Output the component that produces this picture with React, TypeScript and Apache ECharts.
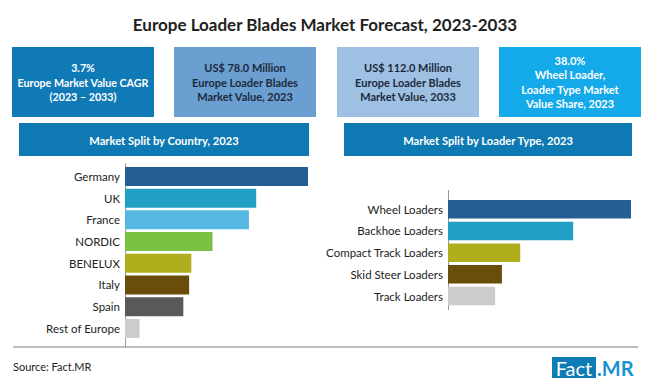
import React, { useEffect, useRef } from "react";
import * as echarts from "echarts";

const countries = ["Germany", "UK", "France", "NORDIC", "BENELUX", "Italy", "Spain", "Rest of Europe"];
const countryShare = [25.1, 18.0, 17.0, 12.0, 9.1, 8.8, 8.0, 2.0];
const countryColors = ["#245F93", "#20A0C4", "#55B8E2", "#7BC143", "#AFAF1E", "#6A4D0A", "#595959", "#CCCCCC"];

const loaderTypes = ["Wheel Loaders", "Backhoe Loaders", "Compact Track Loaders", "Skid Steer Loaders", "Track Loaders"];
const loaderShare = [38.0, 26.0, 15.0, 11.2, 9.8];
const loaderColors = ["#245F93", "#20A0C4", "#AFAF1E", "#6A4D0A", "#CCCCCC"];

const kpiTexts = [
  "3.7%\nEurope Market Value CAGR\n(2023 – 2033)",
  "US$ 78.0 Million\nEurope Loader Blades\nMarket Value, 2023",
  "US$ 112.0 Million\nEurope Loader Blades\nMarket Value, 2033",
  "38.0%\nWheel Loader,\nLoader Type Market\nValue Share, 2023",
];
const kpiColors = ["#0F7AB5", "#6B9FD2", "#9EC0E2", "#14A9E8"];

const FONT = "Lato, 'Open Sans', sans-serif";

export default function App() {
  const ref = useRef<HTMLDivElement>(null);
  useEffect(() => {
    if (!ref.current) return;
    const chart = echarts.init(ref.current, null, { renderer: "svg" });

    const boxX = [12, 174, 337, 499];
    const boxW = 142;
    const graphics: any[] = [];
    graphics.push({
      type: "line",
      shape: { x1: 40, y1: 42, x2: 610, y2: 42 },
      style: {
        stroke: new echarts.graphic.LinearGradient(0, 0, 1, 0, [
          { offset: 0, color: "rgba(180,180,180,0)" },
          { offset: 0.2, color: "#b8b8b8" },
          { offset: 0.8, color: "#b8b8b8" },
          { offset: 1, color: "rgba(180,180,180,0)" },
        ]),
        lineWidth: 1,
      },
    });
    kpiTexts.forEach((t, i) => {
      graphics.push({
        type: "rect",
        shape: { x: boxX[i], y: 47, width: boxW, height: 70 },
        style: { fill: kpiColors[i] },
      });
      graphics.push({
        type: "text",
        x: boxX[i] + boxW / 2,
        y: 82,
        style: {
          text: t,
          fill: i === 1 || i === 2 ? "#1c2a3a" : "#ffffff",
          font: `bold ${i === 0 ? 10.7 : 11}px ${FONT}`,
          align: "center",
          verticalAlign: "middle",
          lineHeight: 14.5,
        },
      });
    });
    const headers = [
      { x: 19, w: 290, text: "Market Split by Country, 2023" },
      { x: 344, w: 288, text: "Market Split by Loader Type, 2023" },
    ];
    headers.forEach((h) => {
      graphics.push({
        type: "rect",
        shape: { x: h.x, y: 123, width: h.w, height: 33 },
        style: { fill: "#0E79B2" },
      });
      graphics.push({
        type: "text",
        x: h.x + h.w / 2,
        y: 140,
        style: {
          text: h.text,
          fill: "#ffffff",
          font: `bold 11.2px ${FONT}`,
          align: "center",
          verticalAlign: "middle",
        },
      });
    });
    graphics.push({
      type: "line",
      shape: { x1: 125.5, y1: 163, x2: 125.5, y2: 347 },
      style: { stroke: "#9a9a9a", lineWidth: 1 },
    });
    graphics.push({
      type: "line",
      shape: { x1: 448.5, y1: 190, x2: 448.5, y2: 310 },
      style: { stroke: "#9a9a9a", lineWidth: 1 },
    });
    graphics.push({
      type: "line",
      shape: { x1: 13, y1: 347, x2: 638, y2: 347 },
      style: { stroke: "#7f7f7f", lineWidth: 1 },
    });
    graphics.push({
      type: "text",
      x: 13,
      y: 366,
      style: {
        text: "Source: Fact.MR",
        fill: "#222222",
        font: `11px ${FONT}`,
        align: "left",
        verticalAlign: "middle",
      },
    });
    graphics.push({
      type: "rect",
      shape: { x: 552, y: 357, width: 44, height: 21 },
      style: { fill: "#0E7CB5" },
    });
    graphics.push({
      type: "text",
      x: 574,
      y: 368,
      style: {
        text: "Fact",
        fill: "#ffffff",
        font: `20px ${FONT}`,
        align: "center",
        verticalAlign: "middle",
      },
    });
    graphics.push({
      type: "text",
      x: 597,
      y: 368,
      style: {
        text: ".MR",
        fill: "#1B92D0",
        font: `bold 20px ${FONT}`,
        align: "left",
        verticalAlign: "middle",
      },
    });

    const labelStyle = { color: "#222222", fontSize: 11.5, fontFamily: FONT, margin: 5 };

    chart.setOption({
      animation: false,
      backgroundColor: "#ffffff",
      title: {
        text: "Europe Loader Blades Market Forecast, 2023-2033",
        left: "center",
        top: 11,
        textStyle: { fontSize: 17, fontWeight: "bold", color: "#222222", fontFamily: FONT },
      },
      grid: [
        { left: 125, top: 165.6, width: 218.7, height: 173.6 },
        { left: 448, top: 198.4, width: 192.6, height: 108.5 },
      ],
      xAxis: [
        { gridIndex: 0, type: "value", min: 0, max: 30, show: false },
        { gridIndex: 1, type: "value", min: 0, max: 40, show: false },
      ],
      yAxis: [
        {
          gridIndex: 0,
          type: "category",
          data: countries,
          inverse: true,
          axisLine: { show: false },
          axisTick: { show: false },
          axisLabel: labelStyle,
        },
        {
          gridIndex: 1,
          type: "category",
          data: loaderTypes,
          inverse: true,
          axisLine: { show: false },
          axisTick: { show: false },
          axisLabel: labelStyle,
        },
      ],
      series: [
        {
          type: "bar",
          xAxisIndex: 0,
          yAxisIndex: 0,
          barWidth: 19,
          data: countryShare.map((v, i) => ({ value: v, itemStyle: { color: countryColors[i] } })),
        },
        {
          type: "bar",
          xAxisIndex: 1,
          yAxisIndex: 1,
          barWidth: 18.5,
          data: loaderShare.map((v, i) => ({ value: v, itemStyle: { color: loaderColors[i] } })),
        },
      ],
      graphic: graphics,
    });
    return () => chart.dispose();
  }, []);
  return (
    <div
      ref={ref}
      style={{ position: "fixed", left: 0, top: 0, width: 650, height: 381, background: "#fff" }}
    />
  );
}
